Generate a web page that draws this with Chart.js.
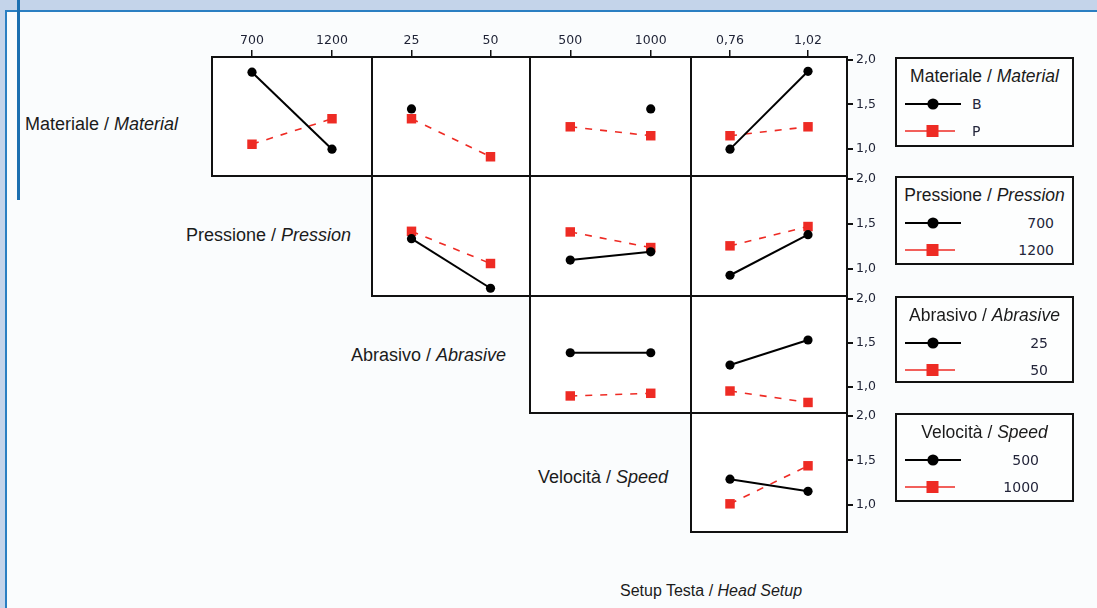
<!DOCTYPE html>
<html>
<head>
<meta charset="utf-8">
<script src="https://cdn.jsdelivr.net/npm/chart.js@4.4.1/dist/chart.umd.min.js"></script>
<style>
  html, body { margin: 0; padding: 0; }
  body {
    width: 1097px; height: 608px; position: relative; overflow: hidden;
    background: #fafcfd; font-family: "Liberation Sans", Arial, sans-serif; color: #1b1b1b;
  }
  .band-top { position: absolute; left: 0; top: 0; width: 1097px; height: 10px; background: #c4d4ea; }
  .band-left { position: absolute; left: 0; top: 0; width: 5px; height: 608px; background: #c4d4ea; }
  .rule-h { position: absolute; left: 5px; top: 10px; width: 1092px; height: 2px; background: #2a7fc2; }
  .rule-v { position: absolute; left: 5px; top: 10px; width: 2px; height: 598px; background: #2a7fc2; }
  .rule-thick { position: absolute; left: 17px; top: 0; width: 3px; height: 200px; background: #1c6fb0; }
  canvas.panel { position: absolute; }
  .rowlabel { position: absolute; font-size: 18px; white-space: nowrap; transform: translate(-100%, -50%); }
  .axistitle { position: absolute; font-size: 16px; white-space: nowrap; transform: translateY(-50%); }
  .legend { position: absolute; left: 895px; width: 179px; border: 2px solid #111; background: #fdfefe; box-sizing: border-box; }
  .legend .title { position: absolute; left: 0; width: 100%; top: 17px; text-align: center; font-size: 17.5px; transform: translateY(-50%); white-space: nowrap; }
  .legend svg { position: absolute; left: 8px; }
  .legend .lab { position: absolute; font-family: "DejaVu Sans", sans-serif; font-size: 14px; color: #23253a; transform: translateY(-50%); white-space: nowrap; }
</style>
</head>
<body>
<div class="band-top"></div>
<div class="band-left"></div>
<div class="rule-h"></div>
<div class="rule-v"></div>
<div class="rule-thick"></div>

<script>
// Factor levels (tick labels and legend entries)
const materialeLevels = ['B', 'P'];
const pressioneLevels = ['700', '1200'];
const abrasivoLevels = ['25', '50'];
const velocitaLevels = ['500', '1000'];
const setupLevels = ['0,76', '1,02'];

// Response axis ticks
const yTicks = [1.0, 1.5, 2.0];

// Mean response for each pair of factors: [first x level, second x level]
// Row 1: traced by Materiale (B black, P red)
const matPress_B = [1.86, 1.00];
const matPress_P = [1.055, 1.34];
const matAbr_B = [1.45, null];
const matAbr_P = [1.34, 0.915];
const matVel_B = [null, 1.45];
const matVel_P = [1.25, 1.15];
const matSetup_B = [1.00, 1.87];
const matSetup_P = [1.15, 1.25];
// Row 2: traced by Pressione (700 black, 1200 red)
const pressAbr_700 = [1.335, 0.786];
const pressAbr_1200 = [1.417, 1.06];
const pressVel_700 = [1.098, 1.19];
const pressVel_1200 = [1.41, 1.237];
const pressSetup_700 = [0.93, 1.38];
const pressSetup_1200 = [1.256, 1.47];
// Row 3: traced by Abrasivo (25 black, 50 red)
const abrVel_25 = [1.385, 1.385];
const abrVel_50 = [0.894, 0.924];
const abrSetup_25 = [1.245, 1.53];
const abrSetup_50 = [0.95, 0.82];
// Row 4: traced by Velocità (500 black, 1000 red)
const velSetup_500 = [1.29, 1.155];
const velSetup_1000 = [1.015, 1.44];

// Row / column titles
const rowTitles = [
  ['Materiale', 'Material'],
  ['Pressione', 'Pression'],
  ['Abrasivo', 'Abrasive'],
  ['Velocità', 'Speed']
];
const rowTraceLevels = [materialeLevels, pressioneLevels, abrasivoLevels, velocitaLevels];
const colLevels = [pressioneLevels, abrasivoLevels, velocitaLevels, setupLevels];
const bottomTitle = ['Setup Testa', 'Head Setup'];

// ---- layout ----
const colEdges = [212, 372, 530, 691, 847];
const rowEdges = [57, 176, 296, 413, 532];
const AX_TOP = 30, AX_RIGHT = 40, PAD = 3;
const BLACK = '#000000', RED = '#ee2b24';

const panels = [
  [0, 0, matPress_B, matPress_P],
  [0, 1, matAbr_B, matAbr_P],
  [0, 2, matVel_B, matVel_P],
  [0, 3, matSetup_B, matSetup_P],
  [1, 1, pressAbr_700, pressAbr_1200],
  [1, 2, pressVel_700, pressVel_1200],
  [1, 3, pressSetup_700, pressSetup_1200],
  [2, 2, abrVel_25, abrVel_50],
  [2, 3, abrSetup_25, abrSetup_50],
  [3, 3, velSetup_500, velSetup_1000]
];

const panelFrame = {
  id: 'panelFrame',
  beforeDatasetsDraw(chart) {
    const a = chart.chartArea, ctx = chart.ctx;
    ctx.save();
    ctx.fillStyle = '#ffffff';
    ctx.fillRect(a.left, a.top, a.right - a.left, a.bottom - a.top);
    ctx.restore();
  },
  afterDraw(chart) {
    const a = chart.chartArea, ctx = chart.ctx;
    ctx.save();
    ctx.strokeStyle = '#111111';
    ctx.lineWidth = 2;
    ctx.strokeRect(a.left, a.top, a.right - a.left, a.bottom - a.top);
    ctx.restore();
  }
};

const tickFont = { family: '"DejaVu Sans", sans-serif', size: 12.5 };

function toPoints(vals) {
  return vals.map((v, i) => ({ x: i, y: v }));
}

// keep every panel's plotting area exactly on its grid cell
function fixSize(s, key, size) {
  s[key] = size;
  s.paddingTop = 0; s.paddingBottom = 0; s.paddingLeft = 0; s.paddingRight = 0;
}

function makePanel(row, col, blackVals, redVals) {
  const left = colEdges[col], right = colEdges[col + 1];
  const top = rowEdges[row], bottom = rowEdges[row + 1];
  const w = right - left + PAD + AX_RIGHT;
  const h = bottom - top + AX_TOP + PAD;
  const cv = document.createElement('canvas');
  cv.className = 'panel';
  cv.width = w; cv.height = h;
  cv.style.left = (left - PAD) + 'px';
  cv.style.top = (top - AX_TOP) + 'px';
  cv.style.width = w + 'px'; cv.style.height = h + 'px';
  document.body.appendChild(cv);

  const showX = row === 0;
  const showY = col === 3;
  const xLevels = colLevels[col];
  const trace = rowTraceLevels[row];

  new Chart(cv, {
    type: 'line',
    data: {
      datasets: [
        {
          label: trace[0], data: toPoints(blackVals), order: 0,
          borderColor: BLACK, backgroundColor: BLACK, borderWidth: 2,
          pointStyle: 'circle', pointRadius: 4.6, pointBorderWidth: 0
        },
        {
          label: trace[1], data: toPoints(redVals), order: 1,
          borderColor: RED, backgroundColor: RED, borderWidth: 1.6, borderDash: [7, 8],
          pointStyle: 'rect', pointRadius: 6.7, pointBorderWidth: 0
        }
      ]
    },
    options: {
      responsive: false,
      animation: false,
      events: [],
      layout: { autoPadding: false, padding: { left: PAD, bottom: PAD, top: 0, right: 0 } },
      plugins: { legend: { display: false }, tooltip: { enabled: false } },
      scales: {
        x: {
          type: 'linear', position: 'top', min: -0.5, max: 1.5,
          afterBuildTicks: s => { s.ticks = [{ value: 0 }, { value: 1 }]; },
          afterFit: s => fixSize(s, 'height', AX_TOP),
          border: { display: false },
          grid: { display: showX, drawOnChartArea: false, drawTicks: true, tickLength: 7, color: '#111', lineWidth: 1.5 },
          ticks: { display: showX, autoSkip: false, maxRotation: 0, padding: 2, color: '#1e2235', font: tickFont,
                   callback: v => xLevels[v] }
        },
        y: {
          type: 'linear', position: 'right', min: 0.7, max: 2.03,
          afterBuildTicks: s => { s.ticks = yTicks.map(v => ({ value: v })); },
          afterFit: s => fixSize(s, 'width', AX_RIGHT),
          border: { display: false },
          grid: { display: showY, drawOnChartArea: false, drawTicks: true, tickLength: 6, color: '#111', lineWidth: 2 },
          ticks: { display: showY, autoSkip: false, padding: 3, color: '#1e2235', font: tickFont,
                   callback: v => v.toFixed(1).replace('.', ',') }
        }
      }
    },
    plugins: [panelFrame]
  });
}

panels.forEach(p => makePanel(p[0], p[1], p[2], p[3]));

// Row titles, right aligned beside the first panel of each row
const rowLabelPos = [[178, 124], [351, 235], [506, 355], [668, 477]];
rowTitles.forEach((t, i) => {
  const d = document.createElement('div');
  d.className = 'rowlabel';
  d.style.left = rowLabelPos[i][0] + 'px';
  d.style.top = rowLabelPos[i][1] + 'px';
  d.innerHTML = t[0] + ' / <i>' + t[1] + '</i>';
  document.body.appendChild(d);
});

const bt = document.createElement('div');
bt.className = 'axistitle';
bt.style.left = '620px';
bt.style.top = '591px';
bt.innerHTML = bottomTitle[0] + ' / <i>' + bottomTitle[1] + '</i>';
document.body.appendChild(bt);

// Legend boxes, one per traced factor
const legendTops = [57, 176, 296, 413];
const legendHeights = [90, 89, 87, 89];
// label placement: 'l' = left edge x, 'r' = right edge x
const legendLabelPos = [['l', 75], ['r', 18], ['r', 24], ['r', 33]];
rowTitles.forEach((t, i) => {
  const box = document.createElement('div');
  box.className = 'legend';
  box.style.top = legendTops[i] + 'px';
  box.style.height = legendHeights[i] + 'px';
  let html = '<div class="title">' + t[0] + ' / <i>' + t[1] + '</i></div>';
  const itemY = [45, 72];
  rowTraceLevels[i].forEach((lv, k) => {
    const y = itemY[k];
    if (k === 0) {
      html += '<svg width="56" height="14" style="top:' + (y - 7) + 'px">' +
        '<line x1="0" y1="7" x2="56" y2="7" stroke="' + BLACK + '" stroke-width="2"/>' +
        '<circle cx="28" cy="7" r="5.6" fill="' + BLACK + '"/></svg>';
    } else {
      html += '<svg width="56" height="14" style="top:' + (y - 7) + 'px">' +
        '<line x1="0" y1="7" x2="50" y2="7" stroke="' + RED + '" stroke-width="1.5"/>' +
        '<rect x="21.5" y="1" width="12" height="12" fill="' + RED + '"/></svg>';
    }
    const pos = legendLabelPos[i];
    const style = pos[0] === 'l' ? 'left:' + pos[1] + 'px;' : 'right:' + pos[1] + 'px;';
    html += '<div class="lab" style="' + style + 'top:' + y + 'px">' + lv + '</div>';
  });
  box.innerHTML = html;
  document.body.appendChild(box);
});
</script>
</body>
</html>
